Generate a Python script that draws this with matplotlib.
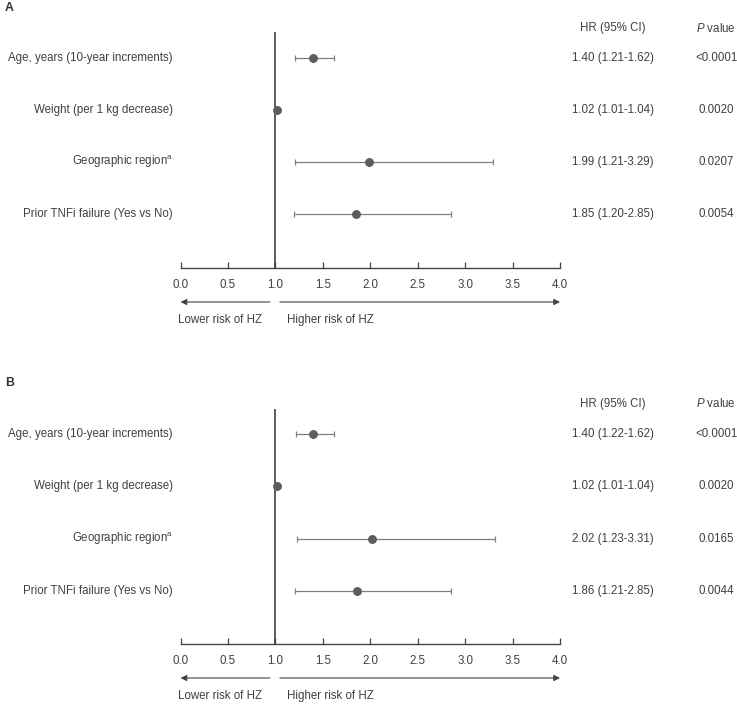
import matplotlib
matplotlib.use("Agg")
import matplotlib.pyplot as plt
import matplotlib.transforms as mtrans
import numpy as np

plt.rcParams['font.family'] = ['Liberation Sans', 'DejaVu Sans']
plt.rcParams['mathtext.fontset'] = 'custom'
plt.rcParams['mathtext.rm'] = 'Liberation Sans'
plt.rcParams['mathtext.it'] = 'Liberation Sans:italic'
plt.rcParams['mathtext.default'] = 'regular'

categories = ["Age, years (10-year increments)",
              "Weight (per 1 kg decrease)",
              r"Geographic region$^{a}$",
              "Prior TNFi failure (Yes vs No)"]

hr_a = [1.40, 1.02, 1.99, 1.85]
lo_a = [1.21, 1.01, 1.21, 1.20]
hi_a = [1.62, 1.04, 3.29, 2.85]
p_a = ["<0.0001", "0.0020", "0.0207", "0.0054"]

hr_b = [1.40, 1.02, 2.02, 1.86]
lo_b = [1.22, 1.01, 1.23, 1.21]
hi_b = [1.62, 1.04, 3.31, 2.85]
p_b = ["<0.0001", "0.0020", "0.0165", "0.0044"]

xticks = [0.0, 0.5, 1.0, 1.5, 2.0, 2.5, 3.0, 3.5, 4.0]

W, H = 737, 705
fig = plt.figure(figsize=(W / 100, H / 100), dpi=100)

TXT = '#404040'
FS = 8.3


def panel(top_px, bot_px, rows_top, rows_bot, hr, lo, hi, pv):
    left_px, right_px = 180.5, 560
    ax = fig.add_axes([left_px / W, 1 - bot_px / H,
                       (right_px - left_px) / W, (bot_px - top_px) / H])
    n = len(hr)
    step = (rows_bot - rows_top) / (n - 1)
    y_top = -(rows_top - top_px) / step
    y_bot = (n - 1) + (bot_px - rows_bot) / step
    ax.set_xlim(0, 4)
    ax.set_ylim(y_bot, y_top)
    y = np.arange(n)
    hr_arr = np.array(hr)
    err = [hr_arr - np.array(lo), np.array(hi) - hr_arr]
    ax.errorbar(hr, y, xerr=err, fmt='o', color='#5c5c5c', ms=5.4,
                ecolor='#808080', elinewidth=0.9, capsize=2.2,
                capthick=0.9, zorder=3)
    ax.axvline(1.0, color='#333333', lw=1.1, zorder=2)
    for s in ['top', 'right', 'left']:
        ax.spines[s].set_visible(False)
    ax.spines['bottom'].set_color('#444444')
    ax.spines['bottom'].set_linewidth(1.0)
    ax.set_yticks([])
    ax.set_xticks(xticks)
    ax.set_xticklabels([f"{t:.1f}" for t in xticks], color=TXT, fontsize=FS)
    ax.tick_params(axis='x', direction='in', length=4, width=0.9,
                   color='#444444', pad=8)

    bt = mtrans.blended_transform_factory(fig.transFigure, ax.transData)
    for i, c in enumerate(categories):
        ax.text(173 / W, i, c, transform=bt,
                ha='right', va='center', fontsize=FS, color=TXT)
    for i in range(n):
        ax.text(613 / W, i, f"{hr[i]:.2f} ({lo[i]:.2f}-{hi[i]:.2f})", transform=bt,
                ha='center', va='center', fontsize=FS, color=TXT)
        ax.text(716 / W, i, pv[i], transform=bt,
                ha='center', va='center', fontsize=FS, color=TXT)
    head_px = rows_top - 30
    ax.text(613 / W, (head_px - rows_top) / step, "HR (95% CI)", transform=bt,
            ha='center', va='center', fontsize=FS, color=TXT)
    ax.text(716 / W, (head_px - rows_top) / step, r"$\it{P}$ value", transform=bt,
            ha='center', va='center', fontsize=FS, color=TXT)

    # arrows
    hpx = bot_px - top_px
    arr_y = -(34) / hpx
    for x0, x1 in [(0.943, 0.0), (1.048, 4.0)]:
        ax.annotate('', xy=(x1, arr_y), xytext=(x0, arr_y),
                    xycoords=('data', 'axes fraction'),
                    textcoords=('data', 'axes fraction'),
                    arrowprops=dict(arrowstyle='-|>', color='#444444', lw=0.8,
                                    mutation_scale=9, shrinkA=0, shrinkB=0),
                    annotation_clip=False)
    lab_y = -(52) / hpx
    ft = mtrans.blended_transform_factory(fig.transFigure, ax.transAxes)
    ax.text(178 / W, lab_y, "Lower risk of HZ", transform=ft,
            ha='left', va='center', fontsize=FS, color=TXT)
    ax.text(287 / W, lab_y, "Higher risk of HZ", transform=ft,
            ha='left', va='center', fontsize=FS, color=TXT)
    return ax


panel(32, 268, 58, 214, hr_a, lo_a, hi_a, p_a)
panel(409, 644, 434, 591, hr_b, lo_b, hi_b, p_b)

fig.text(5 / W, 1 - 8 / H, "A", ha='left', va='center', fontsize=8.8,
         fontweight='bold', color='#333333')
fig.text(5 / W, 1 - 383 / H, "B", ha='left', va='center', fontsize=8.8,
         fontweight='bold', color='#333333')

fig.savefig("out.png", dpi=100, facecolor='white')
